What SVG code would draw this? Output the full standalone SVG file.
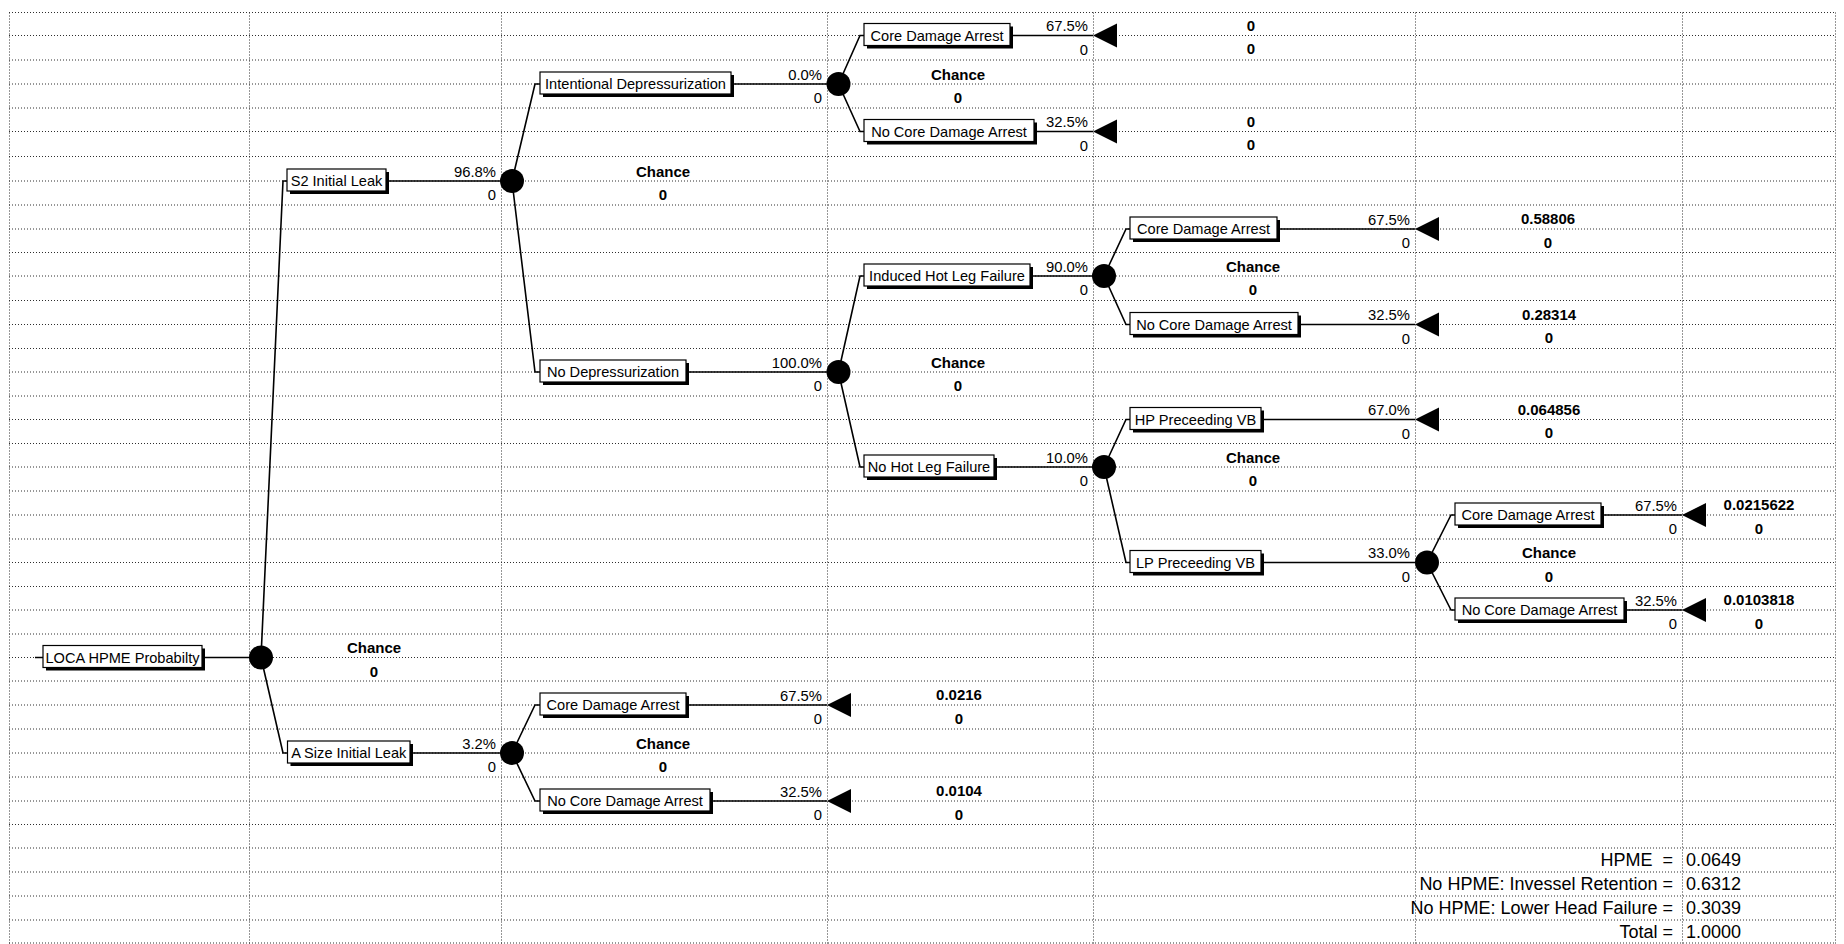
<svg xmlns="http://www.w3.org/2000/svg" width="1844" height="944" viewBox="0 0 1844 944">
<style>
.grid line{stroke:#2e2e2e;stroke-width:1;stroke-dasharray:1 2}
text{font-family:"Liberation Sans",Arial,sans-serif;fill:#000}
.bt{font-size:14.6px;text-anchor:middle}
.pc{font-size:14.8px;text-anchor:end}
.bd{font-size:15px;font-weight:bold;text-anchor:middle}
.sm{font-size:18px}
.sh{fill:#000}
.bx{fill:#fff;stroke:#000;stroke-width:1.2}
.conn path{stroke:#000;stroke-width:1.6;fill:none}
.dot{fill:#000}
</style>
<rect width="1844" height="944" fill="#fff"/>
<g class="grid">
<line x1="9" y1="12.5" x2="1835" y2="12.5"/>
<line x1="9" y1="35.5" x2="1835" y2="35.5"/>
<line x1="9" y1="60" x2="1835" y2="60"/>
<line x1="9" y1="84" x2="1835" y2="84"/>
<line x1="9" y1="108" x2="1835" y2="108"/>
<line x1="9" y1="131.5" x2="1835" y2="131.5"/>
<line x1="9" y1="156.5" x2="1835" y2="156.5"/>
<line x1="9" y1="181" x2="1835" y2="181"/>
<line x1="9" y1="205" x2="1835" y2="205"/>
<line x1="9" y1="229" x2="1835" y2="229"/>
<line x1="9" y1="252.5" x2="1835" y2="252.5"/>
<line x1="9" y1="276" x2="1835" y2="276"/>
<line x1="9" y1="300.5" x2="1835" y2="300.5"/>
<line x1="9" y1="324.5" x2="1835" y2="324.5"/>
<line x1="9" y1="348.5" x2="1835" y2="348.5"/>
<line x1="9" y1="372" x2="1835" y2="372"/>
<line x1="9" y1="396" x2="1835" y2="396"/>
<line x1="9" y1="419.5" x2="1835" y2="419.5"/>
<line x1="9" y1="443.5" x2="1835" y2="443.5"/>
<line x1="9" y1="467" x2="1835" y2="467"/>
<line x1="9" y1="491" x2="1835" y2="491"/>
<line x1="9" y1="515" x2="1835" y2="515"/>
<line x1="9" y1="539" x2="1835" y2="539"/>
<line x1="9" y1="562.5" x2="1835" y2="562.5"/>
<line x1="9" y1="586.5" x2="1835" y2="586.5"/>
<line x1="9" y1="610" x2="1835" y2="610"/>
<line x1="9" y1="634" x2="1835" y2="634"/>
<line x1="9" y1="657.5" x2="1835" y2="657.5"/>
<line x1="9" y1="681" x2="1835" y2="681"/>
<line x1="9" y1="705" x2="1835" y2="705"/>
<line x1="9" y1="729" x2="1835" y2="729"/>
<line x1="9" y1="753" x2="1835" y2="753"/>
<line x1="9" y1="777" x2="1835" y2="777"/>
<line x1="9" y1="801" x2="1835" y2="801"/>
<line x1="9" y1="824.5" x2="1835" y2="824.5"/>
<line x1="9" y1="848" x2="1835" y2="848"/>
<line x1="9" y1="872" x2="1835" y2="872"/>
<line x1="9" y1="896" x2="1835" y2="896"/>
<line x1="9" y1="920" x2="1835" y2="920"/>
<line x1="9" y1="943" x2="1835" y2="943"/>
<line x1="9.5" y1="12.5" x2="9.5" y2="944"/>
<line x1="249.5" y1="12.5" x2="249.5" y2="944"/>
<line x1="501.5" y1="12.5" x2="501.5" y2="944"/>
<line x1="827.5" y1="12.5" x2="827.5" y2="944"/>
<line x1="1093.5" y1="12.5" x2="1093.5" y2="944"/>
<line x1="1415.5" y1="12.5" x2="1415.5" y2="944"/>
<line x1="1682.5" y1="12.5" x2="1682.5" y2="944"/>
<line x1="1835.5" y1="12.5" x2="1835.5" y2="944"/>
</g>
<g id="connectors" class="conn">
<path d="M35 657.5H205M205 657.5H261"/>
<path d="M261 657.5L283 181H287"/>
<path d="M261 657.5L283 753H287.5"/>
<path d="M386 181H512"/>
<path d="M512 181L535 84H540"/>
<path d="M512 181L535 372H540"/>
<path d="M410 753H512"/>
<path d="M512 753L535 705H540"/>
<path d="M512 753L535 801H540"/>
<path d="M731 84H838.5"/>
<path d="M838.5 84L860 35.5H864"/>
<path d="M838.5 84L860 131.5H864"/>
<path d="M686 372H838.5"/>
<path d="M838.5 372L860 276H864"/>
<path d="M838.5 372L860 467H864"/>
<path d="M1010 35.5H1093"/>
<path d="M1034 131.5H1093"/>
<path d="M1030 276H1104"/>
<path d="M1104 276L1126 229H1130"/>
<path d="M1104 276L1126 324.5H1130"/>
<path d="M994 467H1104"/>
<path d="M1104 467L1126 419.5H1130"/>
<path d="M1104 467L1126 562.5H1130"/>
<path d="M1277 229H1415"/>
<path d="M1298 324.5H1415"/>
<path d="M1261 419.5H1415"/>
<path d="M1261 562.5H1427"/>
<path d="M1427 562.5L1451 515H1455"/>
<path d="M1427 562.5L1451 610H1455"/>
<path d="M1601 515H1682"/>
<path d="M1624 610H1682"/>
<path d="M686 705H827"/>
<path d="M710 801H827"/>
</g>
<g id="root">
<rect class="sh" x="46" y="648.5" width="159" height="22"/>
<rect class="bx" x="43" y="645.5" width="159" height="22"/>
<text class="bt" x="122.5" y="662.5">LOCA HPME Probabilty</text>
</g>
<g id="chance1">
<circle class="dot" cx="261" cy="657.5" r="12"/>
<text class="bd" x="374" y="653">Chance</text>
<text class="bd" x="374" y="676.5">0</text>
</g>
<g id="s2-leak">
<rect class="sh" x="290" y="172" width="99" height="22"/>
<rect class="bx" x="287" y="169" width="99" height="22"/>
<text class="bt" x="336.5" y="186">S2 Initial Leak</text>
<text class="pc" x="496" y="176.5">96.8%</text>
<text class="pc" x="496" y="200">0</text>
</g>
<g id="chance-s2">
<circle class="dot" cx="512" cy="181" r="12"/>
<text class="bd" x="663" y="176.5">Chance</text>
<text class="bd" x="663" y="200">0</text>
</g>
<g id="a-size-leak">
<rect class="sh" x="290.5" y="744" width="122.5" height="22"/>
<rect class="bx" x="287.5" y="741" width="122.5" height="22"/>
<text class="bt" x="348.75" y="758">A Size Initial Leak</text>
<text class="pc" x="496" y="748.5">3.2%</text>
<text class="pc" x="496" y="772">0</text>
</g>
<g id="chance-asize">
<circle class="dot" cx="512" cy="753" r="12"/>
<text class="bd" x="663" y="748.5">Chance</text>
<text class="bd" x="663" y="772">0</text>
</g>
<g id="intentional-depress">
<rect class="sh" x="543" y="75" width="191" height="22"/>
<rect class="bx" x="540" y="72" width="191" height="22"/>
<text class="bt" x="635.5" y="89">Intentional Depressurization</text>
<text class="pc" x="822" y="79.5">0.0%</text>
<text class="pc" x="822" y="103">0</text>
</g>
<g id="chance-intentional">
<circle class="dot" cx="838.5" cy="84" r="12"/>
<text class="bd" x="958" y="79.5">Chance</text>
<text class="bd" x="958" y="103">0</text>
</g>
<g id="no-depress">
<rect class="sh" x="543" y="363" width="146" height="22"/>
<rect class="bx" x="540" y="360" width="146" height="22"/>
<text class="bt" x="613" y="377">No Depressurization</text>
<text class="pc" x="822" y="367.5">100.0%</text>
<text class="pc" x="822" y="391">0</text>
</g>
<g id="chance-nodepress">
<circle class="dot" cx="838.5" cy="372" r="12"/>
<text class="bd" x="958" y="367.5">Chance</text>
<text class="bd" x="958" y="391">0</text>
</g>
<g id="cda-intentional">
<rect class="sh" x="867" y="26.5" width="146" height="22"/>
<rect class="bx" x="864" y="23.5" width="146" height="22"/>
<text class="bt" x="937" y="40.5">Core Damage Arrest</text>
<text class="pc" x="1088" y="31">67.5%</text>
<text class="pc" x="1088" y="54.5">0</text>
</g>
<g id="term-cda-intentional">
<polygon class="dot" points="1093,35.5 1117,23.5 1117,47.5"/>
<text class="bd" x="1251" y="30.5">0</text>
<text class="bd" x="1251" y="54">0</text>
</g>
<g id="ncda-intentional">
<rect class="sh" x="867" y="122.5" width="170" height="22"/>
<rect class="bx" x="864" y="119.5" width="170" height="22"/>
<text class="bt" x="949" y="136.5">No Core Damage Arrest</text>
<text class="pc" x="1088" y="127">32.5%</text>
<text class="pc" x="1088" y="150.5">0</text>
</g>
<g id="term-ncda-intentional">
<polygon class="dot" points="1093,131.5 1117,119.5 1117,143.5"/>
<text class="bd" x="1251" y="126.5">0</text>
<text class="bd" x="1251" y="150">0</text>
</g>
<g id="induced-hot-leg">
<rect class="sh" x="867" y="267" width="166" height="22"/>
<rect class="bx" x="864" y="264" width="166" height="22"/>
<text class="bt" x="947" y="281">Induced Hot Leg Failure</text>
<text class="pc" x="1088" y="271.5">90.0%</text>
<text class="pc" x="1088" y="295">0</text>
</g>
<g id="chance-induced">
<circle class="dot" cx="1104" cy="276" r="12"/>
<text class="bd" x="1253" y="271.5">Chance</text>
<text class="bd" x="1253" y="295">0</text>
</g>
<g id="no-hot-leg">
<rect class="sh" x="867" y="458" width="130" height="22"/>
<rect class="bx" x="864" y="455" width="130" height="22"/>
<text class="bt" x="929" y="472">No Hot Leg Failure</text>
<text class="pc" x="1088" y="462.5">10.0%</text>
<text class="pc" x="1088" y="486">0</text>
</g>
<g id="chance-nohotleg">
<circle class="dot" cx="1104" cy="467" r="12"/>
<text class="bd" x="1253" y="462.5">Chance</text>
<text class="bd" x="1253" y="486">0</text>
</g>
<g id="cda-induced">
<rect class="sh" x="1133" y="220" width="147" height="22"/>
<rect class="bx" x="1130" y="217" width="147" height="22"/>
<text class="bt" x="1203.5" y="234">Core Damage Arrest</text>
<text class="pc" x="1410" y="224.5">67.5%</text>
<text class="pc" x="1410" y="248">0</text>
</g>
<g id="term-cda-induced">
<polygon class="dot" points="1415,229 1439,217 1439,241"/>
<text class="bd" x="1548" y="224">0.58806</text>
<text class="bd" x="1548" y="247.5">0</text>
</g>
<g id="ncda-induced">
<rect class="sh" x="1133" y="315.5" width="168" height="22"/>
<rect class="bx" x="1130" y="312.5" width="168" height="22"/>
<text class="bt" x="1214" y="329.5">No Core Damage Arrest</text>
<text class="pc" x="1410" y="320">32.5%</text>
<text class="pc" x="1410" y="343.5">0</text>
</g>
<g id="term-ncda-induced">
<polygon class="dot" points="1415,324.5 1439,312.5 1439,336.5"/>
<text class="bd" x="1549" y="319.5">0.28314</text>
<text class="bd" x="1549" y="343">0</text>
</g>
<g id="hp-vb">
<rect class="sh" x="1133" y="410.5" width="131" height="22"/>
<rect class="bx" x="1130" y="407.5" width="131" height="22"/>
<text class="bt" x="1195.5" y="424.5">HP Preceeding VB</text>
<text class="pc" x="1410" y="415">67.0%</text>
<text class="pc" x="1410" y="438.5">0</text>
</g>
<g id="term-hp">
<polygon class="dot" points="1415,419.5 1439,407.5 1439,431.5"/>
<text class="bd" x="1549" y="414.5">0.064856</text>
<text class="bd" x="1549" y="438">0</text>
</g>
<g id="lp-vb">
<rect class="sh" x="1133" y="553.5" width="131" height="22"/>
<rect class="bx" x="1130" y="550.5" width="131" height="22"/>
<text class="bt" x="1195.5" y="567.5">LP Preceeding VB</text>
<text class="pc" x="1410" y="558">33.0%</text>
<text class="pc" x="1410" y="581.5">0</text>
</g>
<g id="chance-lp">
<circle class="dot" cx="1427" cy="562.5" r="12"/>
<text class="bd" x="1549" y="558">Chance</text>
<text class="bd" x="1549" y="581.5">0</text>
</g>
<g id="cda-lp">
<rect class="sh" x="1458" y="506" width="146" height="22"/>
<rect class="bx" x="1455" y="503" width="146" height="22"/>
<text class="bt" x="1528" y="520">Core Damage Arrest</text>
<text class="pc" x="1677" y="510.5">67.5%</text>
<text class="pc" x="1677" y="534">0</text>
</g>
<g id="term-cda-lp">
<polygon class="dot" points="1682,515 1706,503 1706,527"/>
<text class="bd" x="1759" y="510">0.0215622</text>
<text class="bd" x="1759" y="533.5">0</text>
</g>
<g id="ncda-lp">
<rect class="sh" x="1458" y="601" width="169" height="22"/>
<rect class="bx" x="1455" y="598" width="169" height="22"/>
<text class="bt" x="1539.5" y="615">No Core Damage Arrest</text>
<text class="pc" x="1677" y="605.5">32.5%</text>
<text class="pc" x="1677" y="629">0</text>
</g>
<g id="term-ncda-lp">
<polygon class="dot" points="1682,610 1706,598 1706,622"/>
<text class="bd" x="1759" y="605">0.0103818</text>
<text class="bd" x="1759" y="628.5">0</text>
</g>
<g id="cda-asize">
<rect class="sh" x="543" y="696" width="146" height="22"/>
<rect class="bx" x="540" y="693" width="146" height="22"/>
<text class="bt" x="613" y="710">Core Damage Arrest</text>
<text class="pc" x="822" y="700.5">67.5%</text>
<text class="pc" x="822" y="724">0</text>
</g>
<g id="term-cda-asize">
<polygon class="dot" points="827,705 851,693 851,717"/>
<text class="bd" x="959" y="700">0.0216</text>
<text class="bd" x="959" y="723.5">0</text>
</g>
<g id="ncda-asize">
<rect class="sh" x="543" y="792" width="170" height="22"/>
<rect class="bx" x="540" y="789" width="170" height="22"/>
<text class="bt" x="625" y="806">No Core Damage Arrest</text>
<text class="pc" x="822" y="796.5">32.5%</text>
<text class="pc" x="822" y="820">0</text>
</g>
<g id="term-ncda-asize">
<polygon class="dot" points="827,801 851,789 851,813"/>
<text class="bd" x="959" y="796">0.0104</text>
<text class="bd" x="959" y="819.5">0</text>
</g>
<g id="summary" class="sm">
<text class="sm" x="1673" y="865.5" text-anchor="end" xml:space="preserve">HPME  =</text>
<text class="sm" x="1686" y="865.5">0.0649</text>
<text class="sm" x="1673" y="889.5" text-anchor="end">No HPME: Invessel Retention =</text>
<text class="sm" x="1686" y="889.5">0.6312</text>
<text class="sm" x="1673" y="913.5" text-anchor="end">No HPME: Lower Head Failure =</text>
<text class="sm" x="1686" y="913.5">0.3039</text>
<text class="sm" x="1673" y="937.5" text-anchor="end">Total =</text>
<text class="sm" x="1686" y="937.5">1.0000</text>
</g>
</svg>
